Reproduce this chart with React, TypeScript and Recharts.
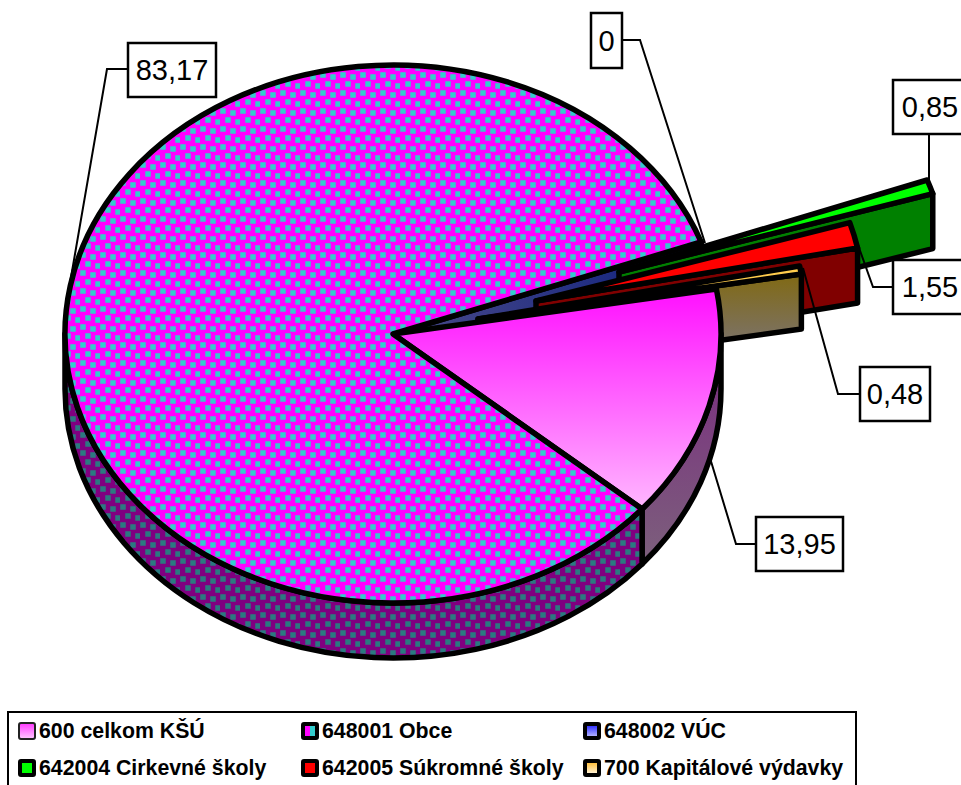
import React from 'react';
import { PieChart, Pie, Legend } from 'recharts';

const CATEGORIES = ['600 celkom KŠÚ', '648001 Obce', '648002 VÚC', '642004 Cirkevné školy', '642005 Súkromné školy', '700 Kapitálové výdavky'];
const VALUES = [13.95, 83.17, 0, 0.85, 1.55, 0.48];
const LABELS = ['13,95', '83,17', '0', '0,85', '1,55', '0,48'];
// Drawing order: back to front, clockwise
const DRAW_ORDER = [2, 3, 4, 5, 0, 1];

// Styles and layout, indexed like CATEGORIES
const TOP_FILL = ['url(#gPink)', 'url(#pDots)', '#3a3a9a', '#00ff00', '#ff0000', '#ffcc4d'];
const WALL_FILL = ['url(#gPinkWall)', 'url(#pDotsDark)', 'url(#gBlueWall)', '#008000', '#800000', 'url(#gBrown)'];
const SWATCH = ['linear-gradient(#ff40ff,#ffc0ff)', 'linear-gradient(90deg,#ff00ff 50%,#33cccc 50%)', 'linear-gradient(#3333ff,#b0b0ff)', '#00ff00', '#ff0000', 'linear-gradient(#ffc040,#fff0d0)'];
const OFFSETS: [number, number][] = [[0, 0], [0, 0], [0, 0], [226, -62], [143, -33], [85, -15]];
const BOXES = [
  { x: 756, y: 517, w: 87, h: 54, path: '756,544 736,544 710,458' },
  { x: 128, y: 43, w: 88, h: 54, path: '128,69 107,69 70,283' },
  { x: 591, y: 13, w: 31, h: 55, path: '622,40 640,40 705,243' },
  { x: 893, y: 80, w: 85, h: 54, path: '929,134 929,180' },
  { x: 893, y: 260, w: 85, h: 54, path: '893,287 873,287 858,245' },
  { x: 860, y: 367, w: 70, h: 54, path: '860,394 838,394 803,268' },
];

const CX = 393;
const CY = 334;
const RX = 328;
const RY = 269;
const DEPTH = 55;
const STROKE = 5.5;

const rows = DRAW_ORDER.map((i) => ({ name: CATEGORIES[i], value: VALUES[i], idx: i }));

const pt = (deg: number, ox = 0, oy = 0): [number, number] => {
  const r = (deg * Math.PI) / 180;
  return [CX + RX * Math.cos(r) + ox, CY - RY * Math.sin(r) + oy];
};

function SliceShape(props: any) {
  const { startAngle, endAngle, index } = props;
  const idx = rows[index].idx;
  const [ox, oy] = OFFSETS[idx];
  const stroke = { stroke: '#000', strokeWidth: STROKE, strokeLinejoin: 'round' as const };
  const apex: [number, number] = [CX + ox, CY + oy];
  const parts: React.ReactNode[] = [];

  const exploded = ox !== 0;
  if (exploded || startAngle === endAngle) {
    const angle = exploded ? endAngle : startAngle;
    const [ex, ey] = pt(angle, ox, oy);
    parts.push(
      <path key="cut" fill={WALL_FILL[idx]} {...stroke}
        d={`M${apex[0]},${apex[1]} L${ex},${ey} L${ex},${ey + DEPTH} L${apex[0]},${apex[1] + DEPTH} Z`} />,
    );
  }
  const hi = Math.min(startAngle, 0);
  const lo = Math.max(endAngle, -180);
  if (!exploded && hi > lo) {
    const [ax, ay] = pt(hi);
    const [bx, by] = pt(lo);
    parts.push(
      <path key="wall" fill={WALL_FILL[idx]} {...stroke}
        d={`M${ax},${ay} A${RX},${RY} 0 0 1 ${bx},${by} L${bx},${by + DEPTH} A${RX},${RY} 0 0 0 ${ax},${ay + DEPTH} Z`} />,
    );
  }
  if (startAngle !== endAngle) {
    const [ax, ay] = pt(startAngle, ox, oy);
    const [bx, by] = pt(endAngle, ox, oy);
    const large = startAngle - endAngle > 180 ? 1 : 0;
    parts.push(
      <path key="top" fill={TOP_FILL[idx]} {...stroke}
        d={`M${apex[0]},${apex[1]} L${ax},${ay} A${RX},${RY} 0 ${large} 1 ${bx},${by} Z`} />,
    );
  }
  return <g>{parts}</g>;
}

function SliceLabel(props: any) {
  const idx = rows[props.index].idx;
  const b = BOXES[idx];
  return (
    <g>
      <polyline points={b.path} fill="none" stroke="#000" strokeWidth={2} />
      <rect x={b.x} y={b.y} width={b.w} height={b.h} fill="#fff" stroke="#000" strokeWidth={2.5} />
      <text x={b.x + (idx === 3 || idx === 4 ? 37 : b.w / 2)} y={b.y + b.h / 2 + 10} textAnchor="middle"
        fontFamily="'Liberation Sans', Arial, sans-serif" fontSize={29} fill="#000">
        {LABELS[idx]}
      </text>
    </g>
  );
}

function LegendBox() {
  return (
    <div style={{
      boxSizing: 'border-box', width: 850, height: 90, border: '2.5px solid #000', background: '#fff',
      display: 'grid', gridTemplateColumns: '283px 282px 270px', gridAutoRows: '37px', paddingTop: 0, paddingLeft: 9,
      fontFamily: "'Liberation Sans', Arial, sans-serif", fontWeight: 700, fontSize: 21.3, color: '#000',
    }}>
      {CATEGORIES.map((c, i) => (
        <div key={c} style={{ display: 'flex', alignItems: 'center', whiteSpace: 'nowrap', marginTop: -1 }}>
          <span style={{
            boxSizing: 'border-box', width: 18, height: 18, marginRight: 3, borderRadius: 3, flex: 'none',
            border: i === 0 ? '2px solid #222' : '4px solid #000', background: SWATCH[i],
          }} />
          {c}
        </div>
      ))}
    </div>
  );
}

function DotTile({ base, dot }: { base: string; dot: string }) {
  const spots = [[0, 0], [10, 2], [5, 9], [15, 11]];
  return (
    <>
      <rect width="20" height="18" fill={base} />
      {spots.map(([x, y]) => (
        <rect key={`${x}-${y}`} x={x + 0.25} y={y + 0.25} width="5.5" height="5.5" fill={dot} />
      ))}
    </>
  );
}

export default function App() {
  return (
    <div style={{ position: 'absolute', left: 0, top: 0, width: 961, height: 785, overflow: 'hidden', background: '#fff' }}>
      <PieChart width={961} height={785} margin={{ top: 0, right: 0, bottom: 0, left: 0 }}>
        <defs>
          <pattern id="pDots" patternUnits="userSpaceOnUse" width="20" height="18">
            <DotTile base="#ff00ff" dot="#33cccc" />
          </pattern>
          <pattern id="pDotsDark" patternUnits="userSpaceOnUse" width="20" height="18">
            <DotTile base="#800080" dot="#2a7a80" />
          </pattern>
          <linearGradient id="gPink" gradientUnits="userSpaceOnUse" x1="0" y1="290" x2="0" y2="510">
            <stop offset="0" stopColor="#ff10ff" />
            <stop offset="1" stopColor="#ffb8ff" />
          </linearGradient>
          <linearGradient id="gPinkWall" gradientUnits="userSpaceOnUse" x1="0" y1="340" x2="0" y2="560">
            <stop offset="0" stopColor="#7a2a80" />
            <stop offset="1" stopColor="#7c5f7c" />
          </linearGradient>
          <linearGradient id="gBrown" gradientUnits="userSpaceOnUse" x1="0" y1="280" x2="0" y2="340">
            <stop offset="0" stopColor="#806a1a" />
            <stop offset="1" stopColor="#7c7264" />
          </linearGradient>
          <linearGradient id="gBlueWall" gradientUnits="userSpaceOnUse" x1="400" y1="0" x2="620" y2="0">
            <stop offset="0" stopColor="#4a4a8a" />
            <stop offset="1" stopColor="#1c2a80" />
          </linearGradient>
        </defs>
        <Pie
          data={rows}
          dataKey="value"
          nameKey="name"
          cx={CX}
          cy={CY}
          innerRadius={0}
          outerRadius={RX}
          startAngle={20}
          endAngle={-340}
          stroke="none"
          isAnimationActive={false}
          shape={SliceShape}
          label={SliceLabel}
          labelLine={false}
        />
        <Legend
          content={() => <LegendBox />}
          wrapperStyle={{ position: 'absolute', left: 7, top: 711, bottom: 'auto', width: 850, height: 90 }}
        />
      </PieChart>
    </div>
  );
}
